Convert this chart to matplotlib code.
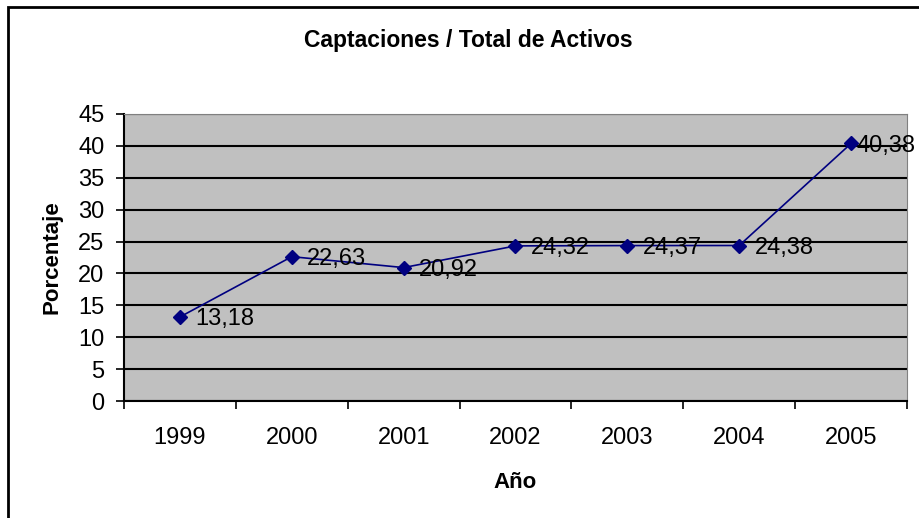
import matplotlib.pyplot as plt
from matplotlib.patches import Rectangle

# datos
anios = ['1999', '2000', '2001', '2002', '2003', '2004', '2005']
porcentaje = [13.18, 22.63, 20.92, 24.32, 24.37, 24.38, 40.38]
etiquetas = ['13,18', '22,63', '20,92', '24,32', '24,37', '24,38', '40,38']
yticks = [0, 5, 10, 15, 20, 25, 30, 35, 40, 45]

plt.rcParams['font.family'] = ['Liberation Sans', 'DejaVu Sans']

fig = plt.figure(figsize=(9.2, 5.18), dpi=100)
ax = fig.add_axes([124 / 920, 117 / 518, (907 - 124) / 920, (401 - 114) / 518])
ax.set_facecolor('#c0c0c0')

X = list(range(len(anios)))
ax.plot(X, porcentaje, color='#000080', marker='D', markersize=7.5, linewidth=1.2, zorder=3, clip_on=False)
for x, v, t in zip(X, porcentaje, etiquetas):
    # la ultima etiqueta queda pegada al borde, como en Excel
    dx = 4 if x == X[-1] else 11
    ax.annotate(t, (x, v), xytext=(dx, 0), textcoords='offset points',
                va='center_baseline', ha='left', fontsize=17, zorder=4, annotation_clip=False)

ax.set_xlim(-0.5, len(anios) - 0.5)
ax.set_ylim(0, 45)
ax.set_yticks(yticks)
ax.set_yticklabels([str(t) for t in yticks], fontsize=17)
ax.yaxis.grid(True, color='black', linewidth=1.5)
ax.set_axisbelow(True)

# ticks de categoria entre los años
ax.set_xticks([i - 0.5 for i in range(len(anios) + 1)])
ax.set_xticklabels([])
ax.set_xticks(X, minor=True)
ax.set_xticklabels(anios, minor=True, fontsize=17)
ax.tick_params(axis='x', which='minor', length=0, pad=19)
ax.tick_params(axis='x', which='major', length=6, width=1.2, direction='out')
ax.tick_params(axis='y', length=6, width=1.2, pad=8)

ax.spines['left'].set_linewidth(1.5)
ax.spines['bottom'].set_linewidth(1.5)
ax.spines['top'].set_color('#808080')
ax.spines['right'].set_color('#808080')

ax.set_xlabel('Año', fontsize=16, fontweight='bold')
ax.xaxis.set_label_coords(0.5, -(482 - 401) / 287)
ax.xaxis.label.set_va('center')
ax.set_ylabel('Porcentaje', fontsize=16, fontweight='bold')
ax.yaxis.set_label_coords(-(124 - 52) / 783, 0.5)
ax.yaxis.label.set_va('center')
fig.text(468 / 920, 1 - 41 / 518, 'Captaciones / Total de Activos', ha='center', va='center',
         fontsize=16.5, fontweight='bold')

# borde del grafico
fig.patches.append(Rectangle((8 / 920, -0.1), 1.2, 1 - 7 / 518 + 0.1, transform=fig.transFigure,
                             fill=False, edgecolor='black', linewidth=2))

fig.savefig('out.png', dpi=100)
